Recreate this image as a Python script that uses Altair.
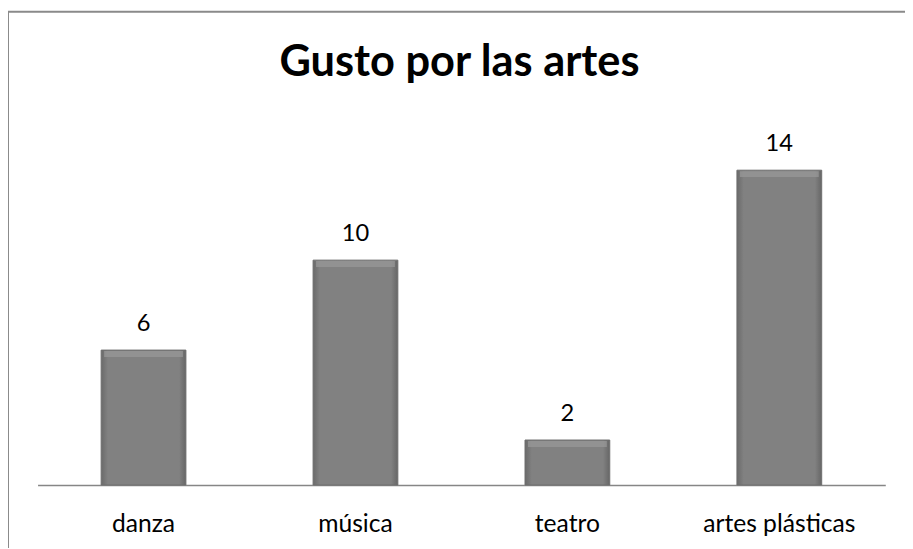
import altair as alt
import pandas as pd

categories = ["danza", "música", "teatro", "artes plásticas"]
values = [6, 10, 2, 14]

df = pd.DataFrame({"cat": categories, "val": values})

W, H = 860, 365
FONT = "Lato"

x = alt.X("cat:N", sort=categories,
          scale=alt.Scale(paddingInner=0.6, paddingOuter=0.3),
          axis=alt.Axis(title=None, labelAngle=0, ticks=False, tickSize=0,
                        labelFontSize=25, labelColor="#000000", labelFont=FONT,
                        labelBaseline="alphabetic", labelPadding=47,
                        domainColor="#868686", domainWidth=1.5, grid=False))
y = alt.Y("val:Q", scale=alt.Scale(domain=[0, 16], nice=False), axis=None)

base = alt.Chart(df)

border = base.mark_rect(fill=None, stroke="#8a8a8a", strokeWidth=2).encode(
    x=alt.value(-30), x2=alt.value(900), y=alt.value(-115), y2=alt.value(460)
).transform_filter(alt.datum.cat == "danza")

bars = base.mark_bar(
    color={"gradient": "linear", "x1": 0, "x2": 1, "y1": 0, "y2": 0,
           "stops": [{"offset": 0, "color": "#6a6a6a"},
                     {"offset": 0.08, "color": "#818181"},
                     {"offset": 0.92, "color": "#818181"},
                     {"offset": 1, "color": "#666666"}]},
    stroke="#6e6e6e", strokeWidth=1
).encode(x=x, y=y)

bevel = base.mark_tick(orient="horizontal", thickness=6, size=80, yOffset=4,
                       color="#9a9a9a").encode(x=x, y=y)

labels = base.mark_text(fontSize=24, font=FONT, baseline="alphabetic", dy=-19,
                        color="#000000").encode(x=x, y=y, text="val:Q")

title = base.mark_text(fontSize=44, font=FONT, fontWeight="bold", baseline="alphabetic",
                       align="center", color="#000000").encode(
    x=alt.value(W / 2 - 2), y=alt.value(-50), text=alt.value("Gusto por las artes")
).transform_filter(alt.datum.cat == "danza")

chart = alt.layer(border, bars, bevel, labels, title).properties(
    width=W, height=H,
    autosize=alt.AutoSizeParams(type="none"),
    padding={"left": 30, "top": 115, "right": 20, "bottom": 60},
    background="white",
).configure_view(stroke=None, strokeWidth=0)

chart.save("out.html", embed_options={"renderer": "svg", "actions": False})
